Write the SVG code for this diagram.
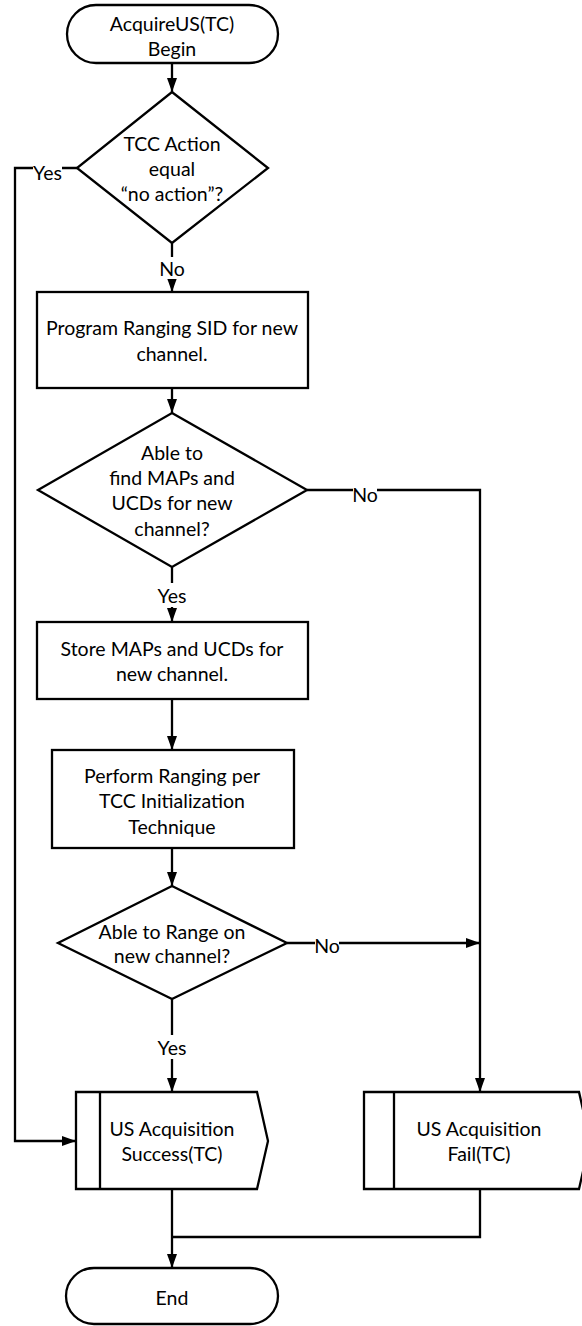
<svg xmlns="http://www.w3.org/2000/svg" width="582" height="1326" viewBox="0 0 582 1326">
<style>
.s{fill:#fff;stroke:#000;stroke-width:2.3}
.c{fill:none;stroke:#000;stroke-width:2.3}
text{font-family:Lato,"Liberation Sans",sans-serif;font-size:19.5px;fill:#000;text-anchor:middle;dominant-baseline:central}
.bg{fill:#fff;stroke:none}
</style>
<defs>
<marker id="a" viewBox="0 0 14 10" refX="14" refY="5" markerWidth="14" markerHeight="10" markerUnits="userSpaceOnUse" orient="auto"><path d="M0,0 L14,5 L0,10 z" fill="#000"/></marker>
</defs>
<rect width="582" height="1326" fill="#fff"/>
<g id="connectors">
<path class="c" d="M172,63 V92" marker-end="url(#a)"/>
<path class="c" d="M172,243 V292" marker-end="url(#a)"/>
<path class="c" d="M77,168 H15 V1141 H76" marker-end="url(#a)"/>
<path class="c" d="M172,388 V413" marker-end="url(#a)"/>
<path class="c" d="M172,567 V622" marker-end="url(#a)"/>
<path class="c" d="M307,490 H480 V1092" marker-end="url(#a)"/>
<path class="c" d="M172,699 V750" marker-end="url(#a)"/>
<path class="c" d="M172,848 V886" marker-end="url(#a)"/>
<path class="c" d="M287,943 H480" marker-end="url(#a)"/>
<path class="c" d="M172,999 V1092" marker-end="url(#a)"/>
<path class="c" d="M172,1189 V1268" marker-end="url(#a)"/>
<path class="c" d="M480,1189 V1237 H172"/>
<g id="labels">
<rect class="bg" x="33" y="160" width="29" height="22"/><text x="47.5" y="172">Yes</text>
<rect class="bg" x="160" y="257" width="24" height="22"/><text x="172" y="268">No</text>
<rect class="bg" x="353" y="483" width="24" height="22"/><text x="365" y="494">No</text>
<rect class="bg" x="157" y="583" width="30" height="24"/><text x="172" y="595">Yes</text>
<rect class="bg" x="315" y="934" width="24" height="22"/><text x="327" y="945">No</text>
<rect class="bg" x="157" y="1035" width="30" height="24"/><text x="172" y="1047">Yes</text>
</g>
</g>
<g id="start"><rect class="s" x="67" y="5" width="211" height="58" rx="29"/><text x="172" y="23">AcquireUS(TC)</text><text x="172" y="48">Begin</text></g>
<g id="d1"><path class="s" d="M172,92 L268,168 L172,243 L77,168 Z"/><text x="172" y="143">TCC Action</text><text x="172" y="168">equal</text><text x="172" y="193">“no action”?</text></g>
<g id="box1"><rect class="s" x="37" y="292" width="271" height="96"/><text x="172" y="327">Program Ranging SID for new</text><text x="172" y="353">channel.</text></g>
<g id="d2"><path class="s" d="M172,413 L307,490 L172,567 L38,490 Z"/><text x="172" y="452">Able to</text><text x="172" y="477">find MAPs and</text><text x="172" y="502">UCDs for new</text><text x="172" y="528">channel?</text></g>
<g id="box2"><rect class="s" x="37" y="622" width="271" height="77"/><text x="172" y="648">Store MAPs and UCDs for</text><text x="172" y="673">new channel.</text></g>
<g id="box3"><rect class="s" x="52" y="750" width="242" height="98"/><text x="172" y="775">Perform Ranging per</text><text x="172" y="800">TCC Initialization</text><text x="172" y="826">Technique</text></g>
<g id="d3"><path class="s" d="M172,886 L287,943 L172,999 L58,943 Z"/><text x="172" y="931">Able to Range on</text><text x="172" y="955">new channel?</text></g>
<g id="success"><path class="s" d="M76,1092 H257 L268,1141 L257,1189 H76 Z"/><path class="c" d="M100,1092 V1189"/><text x="172" y="1128">US Acquisition</text><text x="172" y="1153">Success(TC)</text></g>
<g id="fail"><path class="s" d="M364,1092 H579 L590,1141 L579,1189 H364 Z"/><path class="c" d="M394,1092 V1189"/><text x="479" y="1128">US Acquisition</text><text x="479" y="1153">Fail(TC)</text></g>
<g id="end"><rect class="s" x="66" y="1268" width="212" height="56" rx="28"/><text x="172" y="1297">End</text></g>
</svg>
